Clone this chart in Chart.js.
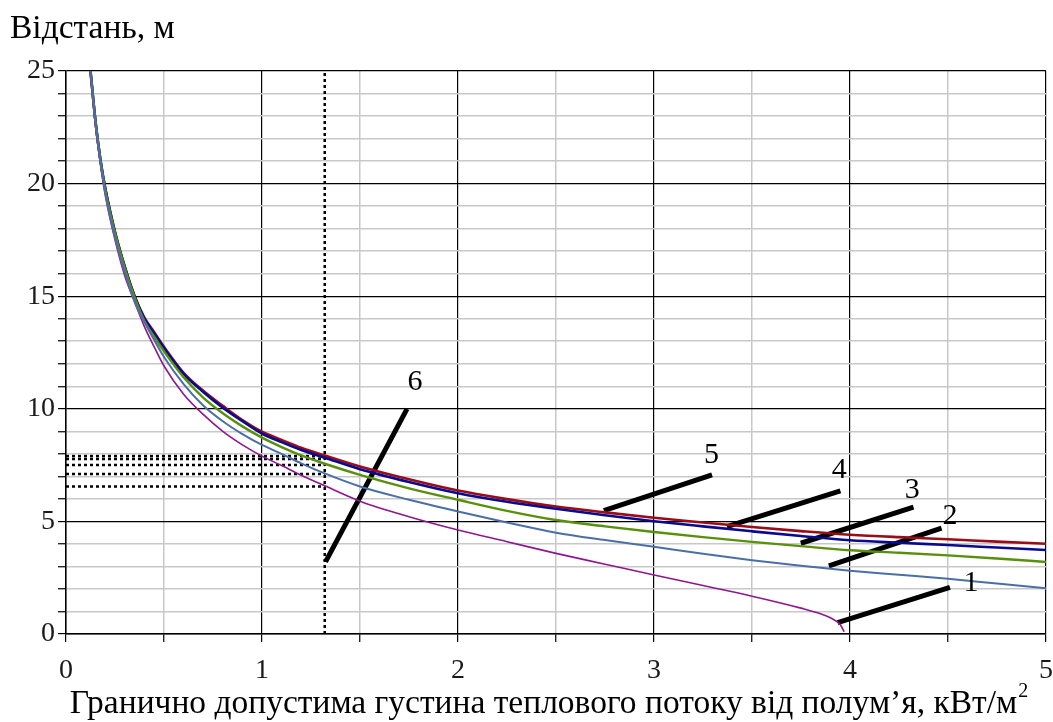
<!DOCTYPE html>
<html>
<head>
<meta charset="utf-8">
<script src="https://cdn.jsdelivr.net/npm/chart.js@4/dist/chart.umd.min.js"></script>
<style>
	body{margin:0;background:#fff;}
	#wrap{width:1053px;height:722px;}
</style>
</head>
<body>
<div id="wrap"><canvas id="chart" width="1053" height="722"></canvas></div>
<script>
	// shared x values (heat flux, kW/m2)
	var xs = [0.125,0.15,0.175,0.2,0.25,0.3,0.35,0.4,0.45,0.5,0.6,0.7,0.8,0.9,1.0,1.1,1.2,1.32,1.5,1.75,2,2.25,2.5,2.75,3,3.25,3.5,3.75,4,4.25,4.5,4.75,5];
	var curve5 = [25,22.8,21.1,19.8,17.85,16.3,15.0,14.05,13.4,12.75,11.6,10.8,10.13,9.5,8.98,8.62,8.27,7.93,7.44,6.87,6.37,5.99,5.66,5.4,5.16,4.95,4.75,4.57,4.41,4.3,4.21,4.1,4.01];
	var curve4 = [25,22.8,21.1,19.8,17.85,16.3,15.0,14.0,13.35,12.7,11.55,10.75,10.05,9.45,8.9,8.52,8.17,7.83,7.32,6.75,6.25,5.87,5.56,5.27,5.01,4.78,4.56,4.35,4.16,4.05,3.95,3.84,3.73];
	var curve3 = [25,22.8,21.1,19.75,17.8,16.25,14.95,13.9,13.2,12.55,11.4,10.5,9.8,9.22,8.72,8.3,7.93,7.56,7.07,6.47,5.96,5.47,5.06,4.78,4.53,4.3,4.09,3.9,3.72,3.61,3.49,3.35,3.2];
	var curve2 = [25,22.7,21.0,19.6,17.6,16.05,14.75,13.85,13.05,12.3,11.1,10.15,9.45,8.88,8.4,8.0,7.58,7.13,6.55,5.96,5.44,4.95,4.5,4.17,3.87,3.56,3.28,3.03,2.81,2.63,2.45,2.24,2.03];
	// curve 1 stops before x = 4
	var xs1 = [0.125,0.15,0.175,0.2,0.25,0.3,0.35,0.4,0.45,0.5,0.6,0.7,0.8,0.9,1.0,1.1,1.2,1.32,1.5,1.75,2,2.25,2.5,2.75,3,3.25,3.5,3.75,3.85,3.9,3.95,3.97];
	var curve1 = [25,22.6,20.9,19.5,17.5,15.9,14.75,13.65,12.75,11.9,10.65,9.75,9.0,8.4,7.9,7.48,7.05,6.58,5.9,5.21,4.62,4.1,3.58,3.1,2.62,2.15,1.68,1.15,0.9,0.72,0.42,0.1];

	// dotted guide lines
	var guideX = 1.32;
	var guideY = [7.9,7.77,7.5,7.1,6.55];

	// curve number labels and their leader lines [x1,y1,x2,y2]
	var labelText = ["1","2","3","4","5","6"];
	var labelPos = [[4.617,2.28],[4.51,5.24],[4.318,6.4],[3.945,7.26],[3.293,7.96],[1.781,11.17]];
	var leaders = [[3.937,0.5,4.51,2.07],[3.892,3.02,4.467,4.7],[3.749,4.03,4.324,5.63],[3.372,4.77,3.951,6.36],[2.744,5.48,3.296,7.07],[1.324,3.2,1.74,10.0]];

	var serif = "'Liberation Serif','Times New Roman',serif";

	function pts(x,y){
		var out = [];
		for(var i=0;i<x.length;i++){ out.push({x:x[i],y:y[i]}); }
		return out;
	}

	var datasets = [];
	function curve(data,color,w){
		datasets.push({data:data,borderColor:color,borderWidth:w,pointRadius:0,showLine:true,fill:false,cubicInterpolationMode:"monotone"});
	}
	curve(pts(xs,curve2),"#4a6fa8",2);
	curve(pts(xs1,curve1),"#8e168f",1.6);
	curve(pts(xs,curve3),"#58900c",2.4);
	curve(pts(xs,curve4),"#0a0a8e",2.6);
	curve(pts(xs,curve5),"#9a0c18",2.6);

	// dotted lines
	datasets.push({data:[{x:guideX,y:0},{x:guideX,y:25}],borderColor:"#000",borderWidth:2.5,borderDash:[3,3],pointRadius:0,showLine:true});
	for(var g=0;g<guideY.length;g++){
		datasets.push({data:[{x:0,y:guideY[g]},{x:guideX,y:guideY[g]}],borderColor:"#000",borderWidth:2.5,borderDash:[3,3],pointRadius:0,showLine:true});
	}
	for(var l=0;l<leaders.length;l++){
		var s = leaders[l];
		datasets.push({data:[{x:s[0],y:s[1]},{x:s[2],y:s[3]}],borderColor:"#000",borderWidth:5,pointRadius:0,showLine:true,borderCapStyle:"butt"});
	}

	var textPlugin = {
		id:"texts",
		afterDraw:function(chart){
			var c = chart.ctx, xa = chart.scales.x, ya = chart.scales.y;
			c.save();
			c.fillStyle = "#000";
			c.textAlign = "center";
			c.textBaseline = "middle";
			c.font = "30px " + serif;
			for(var i=0;i<labelText.length;i++){
				c.fillText(labelText[i], xa.getPixelForValue(labelPos[i][0]), ya.getPixelForValue(labelPos[i][1]));
			}
			// axis titles
			c.textAlign = "left";
			c.textBaseline = "alphabetic";
			c.font = "33.5px " + serif;
			c.fillText("Відстань, м", 10, 38);
			var t = "Гранично допустима густина теплового потоку від полум’я, кВт/м";
			var w = c.measureText(t).width;
			var x0 = 549 - (w + 11)/2;
			c.fillText(t, x0, 713);
			c.font = "20px " + serif;
			c.fillText("2", x0 + w + 1, 697);
			c.restore();
		}
	};

	function gridColor(ctx, major){
		var v = ctx.tick ? ctx.tick.value : 0;
		return Math.abs(v % major) < 1e-6 ? "#000" : "#c8c8c8";
	}

	new Chart(document.getElementById("chart"),{
		type:"scatter",
		data:{datasets:datasets},
		options:{
			responsive:false,
			animation:false,
			layout:{padding:{top:71,right:7,left:0,bottom:0}},
			plugins:{legend:{display:false},tooltip:{enabled:false}},
			scales:{
				x:{
					type:"linear",min:0,max:5,
					afterFit:function(s){ s.height = 88; s.paddingLeft = 0; s.paddingRight = 0; },
					ticks:{stepSize:0.5,autoSkip:false,color:"#1a1a1a",font:{family:serif,size:28},padding:12,maxRotation:0,
						callback:function(v){ return v % 1 === 0 ? v : ""; }},
					grid:{color:function(ctx){ return gridColor(ctx,1); },lineWidth:function(ctx){ return gridColor(ctx,1)=="#000" ? 1.2 : 1.5; },
						tickColor:"#000",tickLength:8,tickWidth:1.2},
					border:{color:"#000",width:1.5}
				},
				y:{
					type:"linear",min:0,max:25,
					afterFit:function(s){ s.width = 66; s.paddingTop = 0; s.paddingBottom = 0; },
					ticks:{stepSize:1,autoSkip:false,color:"#1a1a1a",font:{family:serif,size:28},padding:3,
						callback:function(v){ return v % 5 === 0 ? v : ""; }},
					grid:{color:function(ctx){ return gridColor(ctx,5); },lineWidth:function(ctx){ return gridColor(ctx,5)=="#000" ? 1.2 : 1.5; },
						tickColor:"#000",tickLength:8,tickWidth:1.2},
					border:{color:"#000",width:1.5}
				}
			}
		},
		plugins:[textPlugin]
	});
</script>
</body>
</html>
